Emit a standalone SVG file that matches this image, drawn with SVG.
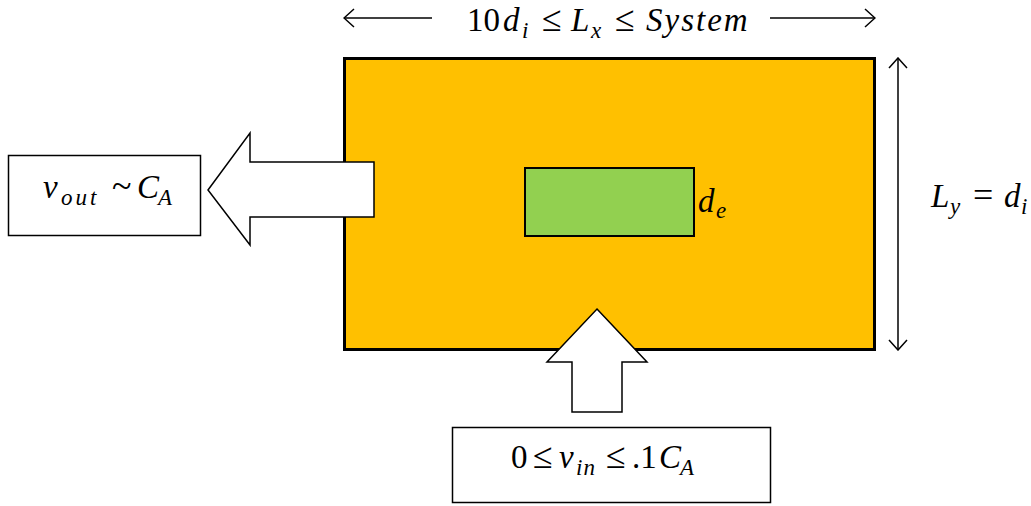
<svg xmlns="http://www.w3.org/2000/svg" width="1031" height="506" viewBox="0 0 1031 506">
<defs>
<style>
.t{font-family:"Liberation Serif","DejaVu Serif",serif;font-size:33px;fill:#000}
.v{font-style:italic}
.s{font-size:23px;font-style:italic}
.m{font-family:"Liberation Serif","DejaVu Serif",serif;font-size:36px;font-style:normal}
.box{fill:#fff;stroke:#000;stroke-width:1.5}
.ln{stroke:#000;stroke-width:1.5;fill:none}
</style>
<marker id="oa" viewBox="0 0 12 20" refX="11" refY="10" markerWidth="12" markerHeight="20" markerUnits="userSpaceOnUse" orient="auto-start-reverse">
<path d="M1,1 L11,10 L1,19" fill="none" stroke="#000" stroke-width="1.5"/>
</marker>
</defs>
<g id="domain">
<rect x="344.5" y="58.5" width="530" height="291" fill="#FFC000" stroke="#000" stroke-width="3"/>
</g>
<g id="particle">
<rect x="525" y="168" width="169" height="68" fill="#92D050" stroke="#000" stroke-width="2"/>
<text class="t" y="212"><tspan class="v" x="698">d</tspan><tspan class="s" x="716" dy="6">e</tspan></text>
</g>
<g id="outlet-box">
<rect class="box" x="8.5" y="155.5" width="192" height="80"/>
<text class="t" y="198"><tspan class="v" x="43">v</tspan><tspan class="s" x="61" dy="7" letter-spacing="3">out</tspan><tspan class="m" x="112" dy="-7">~</tspan><tspan class="v" x="137">C</tspan><tspan class="s" x="158" dy="7">A</tspan></text>
</g>
<g id="inlet-box">
<rect class="box" x="452.5" y="427.5" width="318" height="75"/>
<text class="t" y="468"><tspan x="511">0</tspan><tspan class="m" x="533">≤</tspan><tspan class="v" x="559">v</tspan><tspan class="s" x="576" dy="7" letter-spacing="1">in</tspan><tspan class="m" x="606" dy="-7">≤</tspan><tspan x="632">.1</tspan><tspan class="v" x="659">C</tspan><tspan class="s" x="680" dy="7">A</tspan></text>
</g>
<g id="length-label">
<text class="t" y="31"><tspan x="467">10</tspan><tspan class="v" x="503">d</tspan><tspan class="s" x="522" dy="7">i</tspan><tspan class="m" x="542" dy="-7">≤</tspan><tspan class="v" x="571">L</tspan><tspan class="s" x="591" dy="7">x</tspan><tspan class="m" x="615" dy="-7">≤</tspan><tspan class="v" x="646" letter-spacing="2">System</tspan></text>
</g>
<g id="height-label">
<text class="t" y="207"><tspan class="v" x="931">L</tspan><tspan class="s" x="950" dy="7">y</tspan><tspan class="m" x="973" dy="-7">=</tspan><tspan class="v" x="1004">d</tspan><tspan class="s" x="1021" dy="7">i</tspan></text>
</g>
<g id="connectors">
<path d="M208,190 L250,133 L250,162 L374,162 L374,217 L250,217 L250,245 Z" fill="#fff" stroke="#000" stroke-width="1.5"/>
<path d="M597,309 L647,362 L622,362 L622,412 L572,412 L572,362 L547,362 Z" fill="#fff" stroke="#000" stroke-width="1.5"/>
<line class="ln" x1="432" y1="18" x2="344" y2="18" marker-end="url(#oa)"/>
<line class="ln" x1="770" y1="18" x2="875" y2="18" marker-end="url(#oa)"/>
<line class="ln" x1="898" y1="58" x2="898" y2="350" marker-start="url(#oa)" marker-end="url(#oa)"/>
</g>
</svg>
